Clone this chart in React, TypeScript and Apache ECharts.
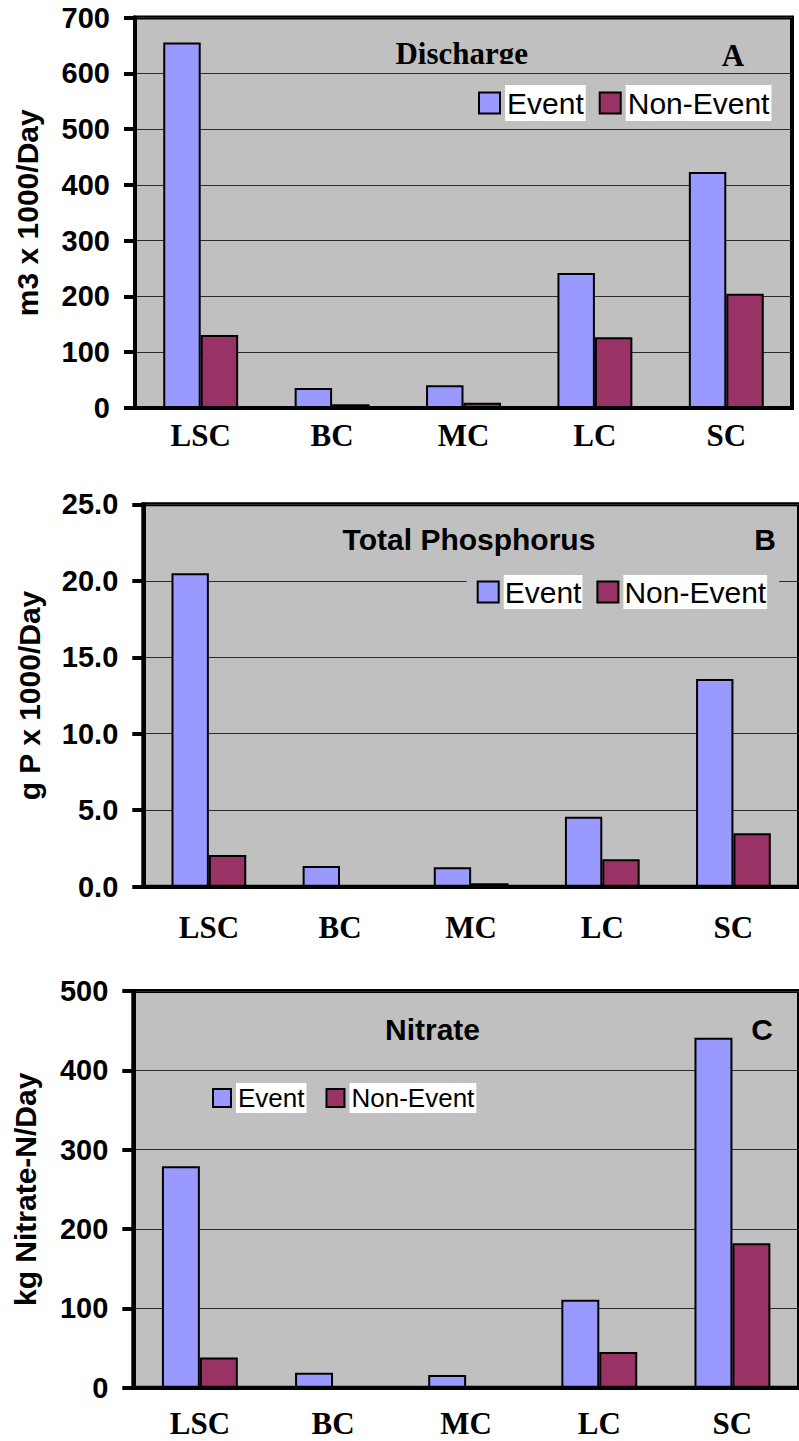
import React, { useEffect, useRef } from "react";
import * as echarts from "echarts";

const categories = ["LSC", "BC", "MC", "LC", "SC"];
const seriesNames = ["Event", "Non-Event"];

const dischargeEvent = [655, 36, 41, 242, 423];
const dischargeNonEvent = [131, 6.6, 9.5, 127, 205];

const phosphorusEvent = [20.5, 1.36, 1.27, 4.58, 13.58];
const phosphorusNonEvent = [2.08, 0.05, 0.22, 1.79, 3.5];

const nitrateEvent = [279, 19, 16, 111, 441];
const nitrateNonEvent = [38, 1.5, 1.5, 45, 182];

const axisA = { min: 0, max: 700, interval: 100 };
const axisB = { min: 0, max: 25, interval: 5 };
const axisC = { min: 0, max: 500, interval: 100 };

const yNames = ["m3 x 1000/Day", "g P x 1000/Day", "kg Nitrate-N/Day"];
const panelTitles = ["Discharge", "Total Phosphorus", "Nitrate"];
const panelLetters = ["A", "B", "C"];

const SANS = 'Arial, "Liberation Sans", sans-serif';
const SERIF = '"Times New Roman", "Liberation Serif", serif';
const EVENT_COLOR = "#9999FF";
const NON_EVENT_COLOR = "#993366";
const PLOT_BG = "#C0C0C0";

function yAxisFor(gridIndex: number, ax: { min: number; max: number; interval: number }, name: string, nameGap: number, decimals: number) {
  return {
    type: "value",
    gridIndex,
    min: ax.min,
    max: ax.max,
    interval: ax.interval,
    name,
    nameLocation: "middle",
    nameGap,
    nameTextStyle: { fontFamily: SANS, fontWeight: "bold", fontSize: 30, color: "#000" },
    axisLine: { show: true, lineStyle: { color: "#000", width: 4 } },
    axisTick: { show: true, inside: false, length: 11, lineStyle: { color: "#000", width: 4 } },
    axisLabel: {
      margin: 25,
      fontFamily: SANS,
      fontWeight: "bold",
      fontSize: 29,
      color: "#000",
      formatter: (v: number) => v.toFixed(decimals),
    },
    splitLine: { show: true, lineStyle: { color: "#2a2a2a", width: 1 } },
  };
}

function xAxisFor(gridIndex: number, margin: number) {
  return {
    type: "category",
    gridIndex,
    data: categories,
    axisLine: { show: true, lineStyle: { color: "#000", width: 4 } },
    axisTick: { show: false },
    axisLabel: {
      margin,
      fontFamily: SERIF,
      fontWeight: "bold",
      fontSize: 31,
      color: "#000",
      interval: 0,
    },
    splitLine: { show: false },
  };
}

function barSeries(name: string, idx: number, data: number[], color: string) {
  return {
    type: "bar",
    name,
    xAxisIndex: idx,
    yAxisIndex: idx,
    data,
    barWidth: "28.5%",
    barGap: "0%",
    itemStyle: { color, borderColor: "#000", borderWidth: 2 },
  };
}

export default function App() {
  const ref = useRef<HTMLDivElement | null>(null);

  useEffect(() => {
    if (!ref.current) return;
    const chart = echarts.init(ref.current, null, { renderer: "svg" });

    const gridCommon = {
      show: true,
      backgroundColor: PLOT_BG,
      borderColor: "#000",
      borderWidth: 4,
      containLabel: false,
    };

    const legendCommon = {
      icon: "rect",
      orient: "horizontal",
      data: seriesNames,
      itemStyle: { borderColor: "#000", borderWidth: 2 },
      selectedMode: false,
    };

    const option: any = {
      animation: false,
      backgroundColor: "#fff",
      grid: [
        { ...gridCommon, left: 135, top: 17.5, width: 657, height: 390.5 },
        { ...gridCommon, left: 143.3, top: 504.3, width: 666.5, height: 382.4 },
        { ...gridCommon, left: 133.3, top: 991, width: 670, height: 396.7 },
      ],
      xAxis: [xAxisFor(0, 12), xAxisFor(1, 25), xAxisFor(2, 20)],
      yAxis: [
        yAxisFor(0, axisA, yNames[0], 93, 0),
        yAxisFor(1, axisB, yNames[1], 99, 1),
        yAxisFor(2, axisC, yNames[2], 93, 0),
      ],
      legend: [
        {
          ...legendCommon,
          left: 478,
          top: 85,
          padding: 0,
          itemWidth: 21,
          itemHeight: 21,
          itemGap: 13,
          textStyle: {
            fontFamily: SANS,
            fontSize: 30,
            lineHeight: 34,
            color: "#000",
            backgroundColor: "#fff",
            padding: [1, 2, 1, 2],
          },
        },
        {
          ...legendCommon,
          left: 466.7,
          top: 572,
          padding: [3, 12, 3, 10],
          backgroundColor: PLOT_BG,
          itemWidth: 21,
          itemHeight: 21,
          itemGap: 14,
          textStyle: {
            fontFamily: SANS,
            fontSize: 30,
            lineHeight: 34,
            color: "#000",
            backgroundColor: "#fff",
            padding: [0, 1, 0, 1],
          },
        },
        {
          ...legendCommon,
          left: 212,
          top: 1083,
          padding: 0,
          itemWidth: 18,
          itemHeight: 18,
          itemGap: 19,
          textStyle: {
            fontFamily: SANS,
            fontSize: 26,
            lineHeight: 30,
            color: "#000",
            backgroundColor: "#fff",
            padding: [0, 2, 0, 2],
          },
        },
      ],
      series: [
        barSeries(seriesNames[0], 0, dischargeEvent, EVENT_COLOR),
        barSeries(seriesNames[1], 0, dischargeNonEvent, NON_EVENT_COLOR),
        barSeries(seriesNames[0], 1, phosphorusEvent, EVENT_COLOR),
        barSeries(seriesNames[1], 1, phosphorusNonEvent, NON_EVENT_COLOR),
        barSeries(seriesNames[0], 2, nitrateEvent, EVENT_COLOR),
        barSeries(seriesNames[1], 2, nitrateNonEvent, NON_EVENT_COLOR),
      ],
      graphic: [
        {
          type: "text",
          x: 461.7,
          y: 53.5,
          z: 50,
          style: { text: panelTitles[0], fontFamily: SERIF, fontWeight: "bold", fontSize: 31, fill: "#000", textAlign: "center", textVerticalAlign: "middle" },
        },
        {
          type: "rect",
          z: 51,
          shape: { x: 385, y: 64, width: 155, height: 7.5 },
          style: { fill: PLOT_BG },
        },
        {
          type: "text",
          x: 733,
          y: 55,
          z: 50,
          style: { text: panelLetters[0], fontFamily: SERIF, fontWeight: "bold", fontSize: 31, fill: "#000", textAlign: "center", textVerticalAlign: "middle" },
        },
        {
          type: "text",
          x: 469,
          y: 539,
          z: 50,
          style: { text: panelTitles[1], fontFamily: SANS, fontWeight: "bold", fontSize: 30, fill: "#000", textAlign: "center", textVerticalAlign: "middle" },
        },
        {
          type: "text",
          x: 765,
          y: 539,
          z: 50,
          style: { text: panelLetters[1], fontFamily: SANS, fontWeight: "bold", fontSize: 30, fill: "#000", textAlign: "center", textVerticalAlign: "middle" },
        },
        {
          type: "text",
          x: 432.5,
          y: 1029,
          z: 50,
          style: { text: panelTitles[2], fontFamily: SANS, fontWeight: "bold", fontSize: 30, fill: "#000", textAlign: "center", textVerticalAlign: "middle" },
        },
        {
          type: "text",
          x: 762,
          y: 1029,
          z: 50,
          style: { text: panelLetters[2], fontFamily: SANS, fontWeight: "bold", fontSize: 30, fill: "#000", textAlign: "center", textVerticalAlign: "middle" },
        },
      ],
    };

    chart.setOption(option);
    return () => {
      chart.dispose();
    };
  }, []);

  return (
    <div
      ref={ref}
      style={{ position: "absolute", left: 0, top: 0, width: 799, height: 1441, background: "#fff" }}
    />
  );
}
